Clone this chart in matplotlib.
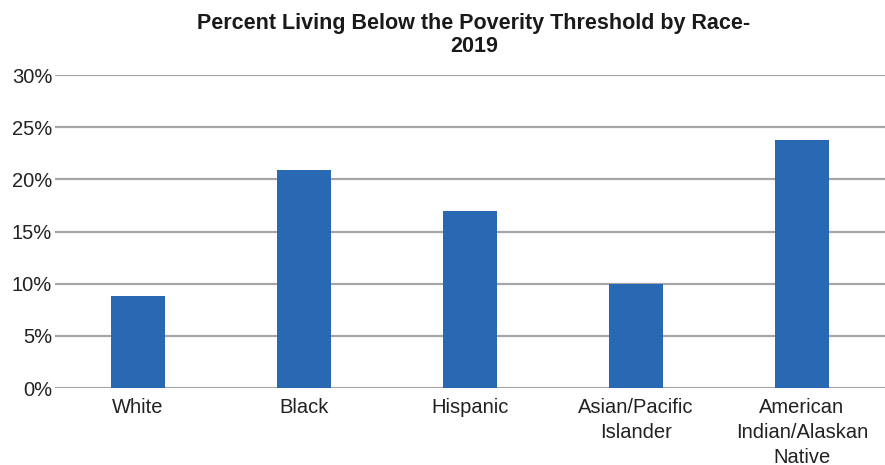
import matplotlib.pyplot as plt
from matplotlib.ticker import PercentFormatter

plt.rcParams['font.family'] = ['Liberation Sans', 'DejaVu Sans']

categories = ['White', 'Black', 'Hispanic', 'Asian/Pacific\nIslander',
              'American\nIndian/Alaskan\nNative']
percent_poverty = [8.8, 20.9, 17.0, 10.0, 23.8]
y_ticks = [0, 5, 10, 15, 20, 25, 30]

fig = plt.figure(figsize=(8.85, 4.65), dpi=100)
ax = fig.add_axes([55 / 885, 1 - 388 / 465, 830 / 885, 313 / 465])

ax.bar(range(len(categories)), percent_poverty, width=0.32, color='#2968b2', zorder=3)

ax.set_ylim(0, 30)
ax.set_xlim(-0.5, len(categories) - 0.5)
ax.set_yticks(y_ticks)
ax.yaxis.set_major_formatter(PercentFormatter(decimals=0))
ax.set_xticks(range(len(categories)))
ax.set_xticklabels(categories, fontsize=14.5, color='#222222', linespacing=1.4)
ax.tick_params(axis='y', labelsize=14.5, labelcolor='#222222', length=0, pad=2)
ax.tick_params(axis='x', length=0, pad=7)

ax.grid(axis='y', color='#a6a6a6', linewidth=1.6, zorder=0)
for side in ['top', 'right', 'left', 'bottom']:
    ax.spines[side].set_visible(False)

fig.text(474 / 885, 1 - 35 / 465, 'Percent Living Below the Poverity Threshold by Race-\n2019',
         ha='center', va='center', fontsize=15.5, fontweight='bold', color='#1a1a1a',
         linespacing=1.12)

fig.savefig('out.png', dpi=100)
